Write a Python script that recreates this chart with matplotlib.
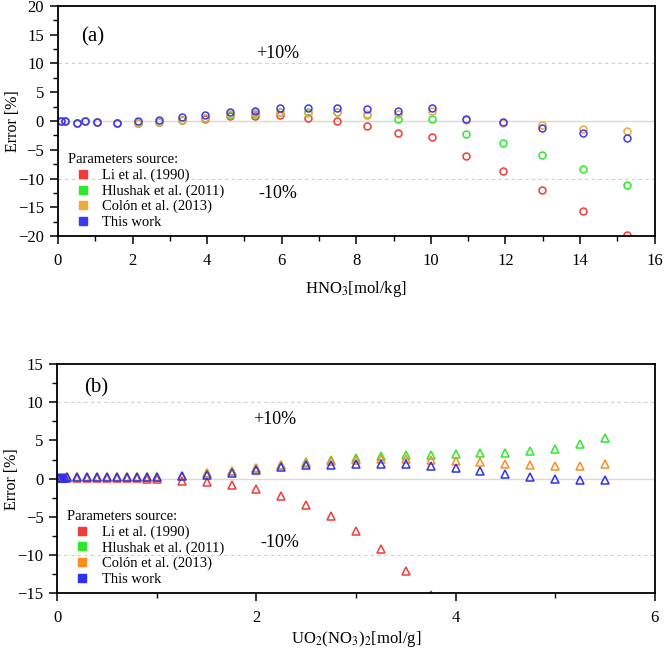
import matplotlib
matplotlib.use("Agg")
import matplotlib.pyplot as plt
from matplotlib.lines import Line2D
from matplotlib.ticker import MultipleLocator

plt.rcParams['font.family'] = ['Liberation Serif', 'DejaVu Serif']
plt.rcParams['mathtext.fontset'] = 'stix'

# ---- panel (a): HNO3 ----
hno3 = [0.08, 0.19, 0.52, 0.72, 1.04, 1.59, 2.14, 2.72, 3.32, 3.95, 4.6, 5.28,
        5.96, 6.7, 7.47, 8.28, 9.12, 10.02, 10.94, 11.92, 12.97, 14.08, 15.25]
a_li = [0.0, 0.0, -0.3, 0.0, -0.1, -0.35, -0.3, -0.2, 0.1, 0.4, 0.82, 0.93,
        1.1, 0.5, 0.05, -0.8, -2.1, -2.8, -6.1, -8.7, -11.9, -15.65, -19.7]
a_hlushak = [0.0, 0.0, -0.3, 0.0, -0.1, -0.35, -0.3, -0.2, 0.1, 0.47, 1.1, 1.2,
             1.6, 1.6, 1.5, 1.05, 0.3, 0.3, -2.26, -3.8, -5.9, -8.4, -11.1]
a_colon = [0.0, 0.0, -0.3, 0.0, -0.1, -0.35, -0.3, -0.2, 0.1, 0.45, 1.2, 1.35,
           1.6, 1.4, 1.6, 1.3, 1.3, 1.74, 0.1, -0.3, -0.7, -1.4, -1.74]
a_this = [0.0, 0.0, -0.3, 0.0, -0.1, -0.3, -0.05, 0.17, 0.64, 1.04, 1.5, 1.8,
          2.2, 2.2, 2.3, 2.1, 1.8, 2.26, 0.4, -0.2, -1.17, -2.1, -3.0]

# ---- panel (b): UO2(NO3)2 ----
uo2 = [0.02, 0.04, 0.06, 0.08, 0.1, 0.2, 0.3, 0.4, 0.5, 0.6, 0.7, 0.8, 0.9, 1.0,
       1.25, 1.5, 1.75, 2.0, 2.25, 2.5, 2.75, 3.0, 3.25, 3.5, 3.75, 4.0,
       4.25, 4.5, 4.75, 5.0, 5.25, 5.5]
b_li = [0.1, 0.1, 0.1, 0.1, 0.1, 0.1, 0.1, 0.1, 0.1, 0.1, 0.1, 0.05, -0.05, -0.1,
        -0.28, -0.4, -0.85, -1.4, -2.25, -3.4, -4.9, -6.9, -9.26, -12.1, -15.2]
b_hlushak = [0.1, 0.1, 0.1, 0.1, 0.15, 0.15, 0.15, 0.15, 0.15, 0.15, 0.15, 0.15, 0.15, 0.15,
             0.35, 0.7, 1.0, 1.4, 1.85, 2.2, 2.45, 2.75, 2.9, 3.06, 3.14, 3.2,
             3.36, 3.4, 3.6, 3.9, 4.5, 5.37]
b_colon = [0.1, 0.1, 0.1, 0.1, 0.15, 0.15, 0.15, 0.15, 0.15, 0.15, 0.15, 0.15, 0.15, 0.15,
           0.35, 0.7, 1.0, 1.35, 1.8, 2.1, 2.3, 2.5, 2.6, 2.6, 2.5, 2.3,
           2.2, 1.97, 1.8, 1.7, 1.66, 1.97]
b_this = [0.1, 0.1, 0.1, 0.1, 0.15, 0.15, 0.15, 0.15, 0.15, 0.15, 0.15, 0.15, 0.15, 0.15,
          0.3, 0.5, 0.8, 1.1, 1.5, 1.8, 1.83, 1.96, 1.96, 1.88, 1.66, 1.4,
          1.05, 0.65, 0.26, -0.04, -0.2, -0.2]

labels = ['Li et al. (1990)', 'Hlushak et al. (2011)', 'Colón et al. (2013)', 'This work']
colors_a = ['#f23a3a', '#2ee82e', '#f0a838', '#3a3af2']
colors_b = ['#f23a3a', '#2ee82e', '#ff8c1e', '#3030f0']

fig = plt.figure(figsize=(6.66, 6.49), dpi=100)
ax_a = fig.add_axes([0.087, 0.636, 0.896, 0.355])
ax_b = fig.add_axes([0.086, 0.086, 0.897, 0.353])


def style_axis(ax, xlim, ylim, ymajor, xlabel, xpad):
    ax.set_xlim(*xlim)
    ax.set_ylim(*ylim)
    ax.yaxis.set_major_locator(MultipleLocator(ymajor))
    ax.yaxis.set_minor_locator(MultipleLocator(ymajor / 2))
    ax.tick_params(which='major', direction='out', length=6, width=1.1, labelsize=12,
                   top=False, right=False)
    ax.tick_params(axis='x', which='major', pad=6)
    ax.tick_params(axis='y', which='major', pad=4)
    ax.tick_params(which='minor', direction='out', length=3.5, width=1.0, top=False, right=False)
    for sp in ax.spines.values():
        sp.set_linewidth(1.3)
    ax.axhline(0, color='#d8d8d8', lw=1.0, zorder=0)
    ax.axhline(10, color='#cfcfcf', lw=0.8, ls=(0, (3, 3)), zorder=0)
    ax.axhline(-10, color='#cfcfcf', lw=0.8, ls=(0, (3, 3)), zorder=0)
    ax.set_ylabel('Error [%]', fontsize=11.5)
    ax.yaxis.set_label_coords(-0.062, 0.5)
    ax.set_xlabel(xlabel, fontsize=12, labelpad=xpad)


def add_legend(ax, colors):
    handles = [Line2D([], [], ls='none', marker='s', ms=6, mfc=c, mec=c) for c in colors]
    leg = ax.legend(handles, labels, title='Parameters source:', loc='lower left',
                    bbox_to_anchor=(-0.005, -0.025), frameon=False, fontsize=10.5,
                    title_fontsize=10.5, handlelength=2.0, handletextpad=0.35,
                    labelspacing=0.15, borderpad=0.4)
    leg._legend_box.align = 'left'


# panel (a)
for ys, c in zip([a_li, a_hlushak, a_colon, a_this], colors_a):
    ax_a.plot(hno3, ys, ls='none', marker='o', ms=5, mfc='none', mec=c, mew=1.1)
style_axis(ax_a, (0, 16), (-20, 20), 5, r'HNO$_3$[mol/kg]', 7)
ax_a.xaxis.set_minor_locator(MultipleLocator(1))
ax_a.text(0.94, 14.6, '(a)', fontsize=15, ha='center', va='center')
ax_a.text(5.9, 11.8, '+10%', fontsize=13, ha='center', va='center')
ax_a.text(5.9, -12.5, '-10%', fontsize=13, ha='center', va='center')
add_legend(ax_a, colors_a)

# panel (b)
for ys, c in zip([b_li, b_hlushak, b_colon, b_this], colors_b):
    ax_b.plot(uo2[:len(ys)], ys, ls='none', marker='^', ms=6, mfc='none', mec=c, mew=1.1)
style_axis(ax_b, (0, 6), (-15, 15), 5, r'UO$_2$(NO$_3$)$_2$[mol/g]', 2)
ax_b.xaxis.set_major_locator(MultipleLocator(2))
ax_b.xaxis.set_minor_locator(MultipleLocator(1))
ax_b.text(0.39, 11.85, '(b)', fontsize=15, ha='center', va='center')
ax_b.text(2.18, 7.75, '+10%', fontsize=13, ha='center', va='center')
ax_b.text(2.24, -8.4, '-10%', fontsize=13, ha='center', va='center')
add_legend(ax_b, colors_b)

fig.savefig('out.png', dpi=100)
